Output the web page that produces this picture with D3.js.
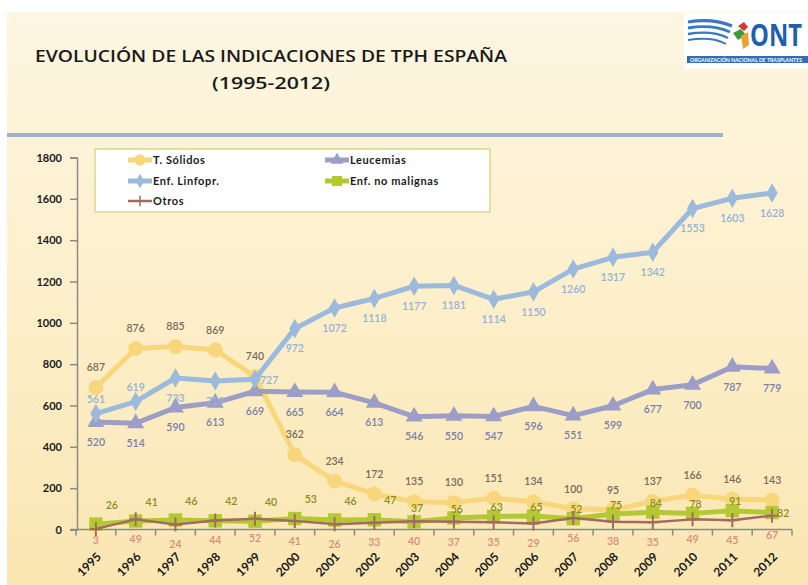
<!DOCTYPE html>
<html>

<head>
  <script src="https://d3js.org/d3.v7.min.js"></script>

  <style>
    body { margin: 0; background: #ffffff; }
    text { font-family: Lato, "Open Sans", sans-serif; }
  </style>
</head>

<body>

  <div id="svgcontainer"></div>

  <script>

    /* chart values */
    var years = ["1995", "1996", "1997", "1998", "1999", "2000", "2001", "2002", "2003",
      "2004", "2005", "2006", "2007", "2008", "2009", "2010", "2011", "2012"];

    var solidos = [687, 876, 885, 869, 740, 362, 234, 172, 135, 130, 151, 134, 100, 95, 137, 166, 146, 143];
    var leucemias = [520, 514, 590, 613, 669, 665, 664, 613, 546, 550, 547, 596, 551, 599, 677, 700, 787, 779];
    var linfopr = [561, 619, 733, 719, 727, 972, 1072, 1118, 1177, 1181, 1114, 1150, 1260, 1317, 1342, 1553, 1603, 1628];
    var noMalignas = [26, 41, 46, 42, 40, 53, 46, 47, 37, 56, 63, 65, 52, 75, 84, 78, 91, 82];
    var otros = [3, 49, 24, 44, 52, 41, 26, 33, 40, 37, 35, 29, 56, 38, 35, 49, 45, 67];

    var yTicks = [0, 200, 400, 600, 800, 1000, 1200, 1400, 1600, 1800];

    // where each value label sits relative to its point
    var placeSolidos = Array(18).fill("above");
    var placeLeucemias = Array(18).fill("below");
    var placeLinfopr = ["aboveNear", "aboveNear", "below", "below", "right"].concat(Array(13).fill("below"));
    var placeNoMal = Array(8).fill("upRight").concat(["upNear"], Array(8).fill("center"), ["right"]);
    var placeOtros = ["belowNear"].concat(Array(17).fill("below"));

    var series = [
      { name: "T. Sólidos", values: solidos, color: "#f8d77c", labelColor: "#7a6a5c", width: 5, marker: "circle", place: placeSolidos },
      { name: "Leucemias", values: leucemias, color: "#9c9ec7", labelColor: "#7b7dac", width: 5, marker: "triangle", place: placeLeucemias },
      { name: "Enf. Linfopr.", values: linfopr, color: "#9cbbdc", labelColor: "#92b3d6", width: 5, marker: "diamond", place: placeLinfopr },
      { name: "Enf. no malignas", values: noMalignas, color: "#b4c834", labelColor: "#8a8d24", width: 5, marker: "square", place: placeNoMal },
      { name: "Otros", values: otros, color: "#a36b60", labelColor: "#d98a7b", width: 2.5, marker: "plus", place: placeOtros }
    ];

    /* svg set up */
    var width = 808, height = 585;

    var svg = d3.select("#svgcontainer")
      .append("svg")
      .attr("width", width)
      .attr("height", height);

    // background panel with soft gradient
    var defs = svg.append("defs");
    var grad = defs.append("linearGradient")
      .attr("id", "bg")
      .attr("x1", 0).attr("y1", 0).attr("x2", 0).attr("y2", 1);
    grad.append("stop").attr("offset", "0%").attr("stop-color", "#fef6e2");
    grad.append("stop").attr("offset", "45%").attr("stop-color", "#fdf0cd");
    grad.append("stop").attr("offset", "100%").attr("stop-color", "#fae6b2");

    svg.append("rect")
      .attr("x", 7).attr("y", 12)
      .attr("width", width - 7).attr("height", height - 12)
      .attr("fill", "url(#bg)");

    // title
    svg.append("text")
      .attr("x", 35).attr("y", 62)
      .attr("textLength", 472)
      .attr("lengthAdjust", "spacingAndGlyphs")
      .style("font-family", "'Open Sans', sans-serif")
      .style("font-size", "17px")
      .style("font-weight", "600")
      .style("fill", "#1a1a1a")
      .text("EVOLUCIÓN DE LAS INDICACIONES DE TPH ESPAÑA");

    svg.append("text")
      .attr("x", 212).attr("y", 89)
      .attr("textLength", 118)
      .attr("lengthAdjust", "spacingAndGlyphs")
      .style("font-family", "'Open Sans', sans-serif")
      .style("font-size", "17px")
      .style("font-weight", "600")
      .style("fill", "#1a1a1a")
      .text("(1995-2012)");

    // blue rule under title
    svg.append("rect")
      .attr("x", 7).attr("y", 133)
      .attr("width", 716).attr("height", 4)
      .attr("fill", "#9db3cc");

    /* logo */
    var logo = svg.append("g");
    logo.append("rect")
      .attr("x", 684).attr("y", 13)
      .attr("width", 124).attr("height", 56)
      .attr("fill", "#ffffff");
    [0, 1, 2, 3].forEach(function (k) {
      logo.append("path")
        .attr("d", "M688," + (22 + k * 6) + " Q712," + (18 + k * 6) + " " + (732 - k * 2) + "," + (26 + k * 6))
        .attr("fill", "none")
        .attr("stroke", "#3a78c2")
        .attr("stroke-width", 3.2 - k * 0.4);
    });
    logo.append("path").attr("d", "M738,26 L744,22 L748,27 L744,31 Z").attr("fill", "#d63a2f");
    logo.append("path").attr("d", "M733,33 L741,29 L746,35 L738,40 Z").attr("fill", "#3c9b3a");
    logo.append("path").attr("d", "M741,36 L748,32 L749,45 L743,49 Z").attr("fill", "#f0a030");
    logo.append("text")
      .attr("transform", "translate(750,46) scale(1,1.35)")
      .attr("textLength", 52)
      .attr("lengthAdjust", "spacingAndGlyphs")
      .style("font-family", "'Open Sans', sans-serif")
      .style("font-size", "22px")
      .style("font-weight", "bold")
      .style("fill", "#1f5fae")
      .text("ONT");
    logo.append("rect")
      .attr("x", 687).attr("y", 56)
      .attr("width", 121).attr("height", 7)
      .attr("fill", "#2f6db7");
    logo.append("text")
      .attr("x", 690).attr("y", 61.5)
      .attr("textLength", 112)
      .attr("lengthAdjust", "spacingAndGlyphs")
      .style("font-size", "5px")
      .style("font-weight", "bold")
      .style("fill", "#ffffff")
      .text("ORGANIZACIÓN NACIONAL DE TRASPLANTES");

    /* scales */
    var x = d3.scaleBand()
      .domain(years)
      .range([76, 792]);

    var y = d3.scaleLinear()
      .domain([0, 1800])
      .range([529.5, 157.5]);

    function cx(i) { return x(years[i]) + x.bandwidth() / 2; }

    /* y axis */
    var yAxis = svg.append("g")
      .attr("transform", "translate(77,0)")
      .call(d3.axisLeft(y).tickValues(yTicks).tickFormat(d3.format("d")).tickSize(7).tickPadding(8));
    yAxis.select(".domain").attr("stroke", "#8a8a8a").attr("stroke-width", 1.5);
    yAxis.selectAll(".tick line").attr("stroke", "#8a8a8a").attr("stroke-width", 1.5);
    yAxis.selectAll(".tick text")
      .style("font-family", "Lato, sans-serif")
      .style("font-size", "11px")
      .style("font-weight", "bold")
      .style("fill", "#1a1a1a");

    /* x axis: line, boundary ticks, rotated labels */
    var xAxis = svg.append("g");
    xAxis.append("line")
      .attr("x1", 70).attr("x2", 792)
      .attr("y1", y(0)).attr("y2", y(0))
      .attr("stroke", "#8a8a8a").attr("stroke-width", 1.5);
    xAxis.selectAll("line.tk")
      .data(years.concat(["end"]))
      .enter()
      .append("line")
      .attr("class", "tk")
      .attr("x1", (d, i) => i < years.length ? x(d) : x.range()[1])
      .attr("x2", (d, i) => i < years.length ? x(d) : x.range()[1])
      .attr("y1", y(0)).attr("y2", y(0) + 6)
      .attr("stroke", "#8a8a8a").attr("stroke-width", 1.5);
    xAxis.selectAll("text")
      .data(years)
      .enter()
      .append("text")
      .attr("transform", (d, i) => "translate(" + (cx(i) + 3) + "," + (y(0) + 25) + ") rotate(-45)")
      .attr("text-anchor", "end")
      .attr("dy", "0.35em")
      .style("font-size", "12px")
      .style("font-weight", "bold")
      .style("fill", "#1a1a1a")
      .text(d => d);

    /* marker shapes */
    function markerPath(type) {
      if (type === "circle") return d3.symbol().type(d3.symbolCircle).size(175)();
      if (type === "triangle") return d3.symbol().type(d3.symbolTriangle).size(125)();
      if (type === "diamond") return d3.symbol().type(d3.symbolDiamond).size(110)();
      if (type === "square") return d3.symbol().type(d3.symbolSquare).size(180)();
      return "M-6,0 L6,0 M0,-7 L0,7";
    }

    function drawMarker(g, s, px, py) {
      var m = g.append("path")
        .attr("d", markerPath(s.marker))
        .attr("transform", "translate(" + px + "," + py + ")");
      if (s.marker === "plus") {
        m.attr("fill", "none").attr("stroke", s.color).attr("stroke-width", 2);
      } else {
        m.attr("fill", s.color);
      }
    }

    var line = d3.line()
      .x((d, i) => cx(i))
      .y(d => y(d));

    /* series lines + markers */
    series.forEach(function (s) {
      var g = svg.append("g");
      g.append("path")
        .datum(s.values)
        .attr("d", line)
        .attr("fill", "none")
        .attr("stroke", s.color)
        .attr("stroke-width", s.width)
        .attr("stroke-linejoin", "round");
      s.values.forEach(function (v, i) {
        drawMarker(g, s, cx(i), y(v));
      });
    });

    /* value labels */
    var offsets = {
      above: [0, -20, "middle"],
      aboveNear: [0, -14, "middle"],
      below: [0, 20, "middle"],
      belowNear: [0, 11, "middle"],
      right: [5, 1, "start"],
      upRight: [16, -19, "middle"],
      upNear: [3, -14, "middle"],
      center: [3, -9, "middle"]
    };

    series.forEach(function (s) {
      svg.append("g")
        .selectAll("text")
        .data(s.values)
        .enter()
        .append("text")
        .attr("x", (d, i) => cx(i) + offsets[s.place[i]][0])
        .attr("y", (d, i) => y(d) + offsets[s.place[i]][1])
        .attr("dy", "0.35em")
        .attr("text-anchor", (d, i) => offsets[s.place[i]][2])
        .style("font-size", "10.5px")
        .style("font-weight", "600")
        .style("fill", s.labelColor)
        .text(d => d);
    });

    /* legend */
    var legend = svg.append("g");
    legend.append("rect")
      .attr("x", 95).attr("y", 149)
      .attr("width", 395).attr("height", 63)
      .attr("fill", "#ffffff")
      .attr("stroke", "#d3da8c")
      .attr("stroke-width", 1.5);

    var legendPos = [[128, 160], [325, 160], [128, 181], [325, 181], [128, 201]];

    series.forEach(function (s, i) {
      var lx = legendPos[i][0], ly = legendPos[i][1];
      legend.append("line")
        .attr("x1", lx).attr("x2", lx + 24)
        .attr("y1", ly).attr("y2", ly)
        .attr("stroke", s.color)
        .attr("stroke-width", s.width);
      var mg = legend.append("g").attr("transform", "translate(" + (lx + 12) + "," + ly + ") scale(0.75)");
      drawMarker(mg, s, 0, 0);
      legend.append("text")
        .attr("x", lx + 25).attr("y", ly)
        .attr("dy", "0.35em")
        .style("font-size", "11px")
        .style("font-weight", "bold")
        .style("letter-spacing", "0.6px")
        .style("fill", "#1a1a1a")
        .text(s.name);
    });

  </script>
</body>

</html>
